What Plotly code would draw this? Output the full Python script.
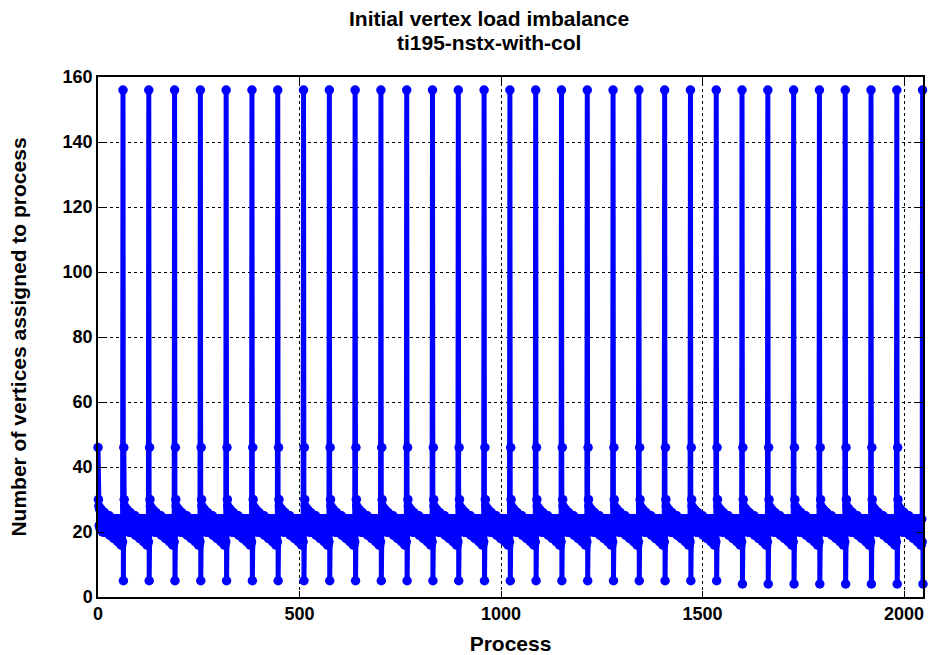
import plotly.graph_objects as go

# --- data ---
n_periods = 32
period_len = 64
# one period of 64 processes: start, staircase band, spike, drop
period_start = [46, 30]
upper_steps = [28, 27, 27, 27, 26, 26, 26, 26, 25, 25, 25, 25, 25, 25, 24, 24,
               24, 24, 24, 24, 24, 24, 24, 24, 24, 24, 24, 24, 24, 24]
lower_steps = [22, 21, 21, 21, 20, 20, 20, 20, 20, 20, 20, 20, 20, 19, 19, 19,
               19, 19, 18, 18, 18, 18, 18, 17, 17, 17, 17, 16, 16, 17]
spike_values = [156] * n_periods
low_values = [5] * 24 + [4] * 8

# assemble series from the read values
band = []
for u, l in zip(upper_steps, lower_steps):
    band += [u, l]

process = []
vertices = []
for k in range(n_periods):
    vals = period_start + band + [spike_values[k], low_values[k]]
    for i, v in enumerate(vals):
        process.append(k * period_len + i)
        vertices.append(v)

fig = go.Figure()
fig.add_trace(go.Scatter(
    x=process, y=vertices, mode="lines+markers",
    line=dict(color="#0000ff", width=5),
    marker=dict(color="#0000ff", size=9.5, symbol="circle"),
    cliponaxis=False, showlegend=False,
))

font_bold = "Liberation Sans"
axis_common = dict(
    showline=True, linecolor="black", linewidth=1.5, mirror="ticks",
    ticks="inside", ticklen=6, tickcolor="black",
    showgrid=True, gridcolor="black", griddash="dot", gridwidth=1,
    zeroline=False, automargin=False,
    tickfont=dict(family=font_bold, size=18, color="black", weight="bold"),
)

fig.update_layout(
    width=930, height=655,
    margin=dict(l=98, r=7, t=77, b=58),
    plot_bgcolor="white", paper_bgcolor="white",
    xaxis=dict(range=[0, 2047], tickvals=[0, 500, 1000, 1500, 2000],
               title=dict(text="<b>Process</b>", standoff=16,
                          font=dict(family=font_bold, size=21, color="black")),
               **axis_common),
    yaxis=dict(range=[0, 160], dtick=20,
               title=dict(text="<b>Number of vertices assigned to process</b>", standoff=30,
                          font=dict(family=font_bold, size=21, color="black")),
               **axis_common),
    annotations=[
        dict(text="<b>Initial vertex load imbalance</b>", xref="paper", yref="paper",
             x=0.474, y=1.0, yshift=59, showarrow=False, xanchor="center", yanchor="middle",
             font=dict(family=font_bold, size=21, color="black")),
        dict(text="<b>ti195-nstx-with-col</b>", xref="paper", yref="paper",
             x=0.474, y=1.0, yshift=35, showarrow=False, xanchor="center", yanchor="middle",
             font=dict(family=font_bold, size=21, color="black")),
    ],
)

fig.write_html("out.html")
